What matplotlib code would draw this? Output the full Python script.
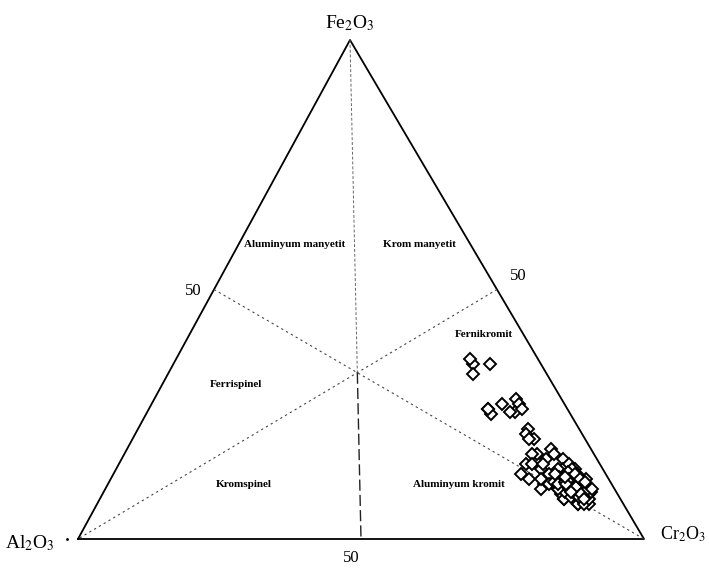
import matplotlib
matplotlib.use("Agg")
import matplotlib.pyplot as plt
import numpy as np

plt.rcParams["font.family"] = ["Liberation Serif", "DejaVu Serif"]
plt.rcParams["mathtext.fontset"] = "stix"

# Sample compositions (%)
cr2o3 = [53, 54, 56, 52,
         60, 61, 62, 64, 65, 65, 64, 66, 60,
         69, 69, 71, 70,
         73, 75, 76, 72, 72, 73, 72, 74, 75, 77, 80, 75, 78, 77, 82, 85, 86,
         79, 81, 82, 83, 83, 79, 78, 79.5, 85, 86, 84, 80.5, 77, 81, 75,
         80, 81, 82, 83, 84, 84, 85, 80, 82, 83, 86, 81, 79, 84, 82, 85, 87, 76, 78,
         82, 83, 85, 80.5, 80.6, 81.5, 86, 86.5, 80, 78.5, 82,
         81, 82.5, 84, 83.5, 85.5, 80, 79, 82, 84.5, 81.5, 83, 79.5, 78, 84, 86,
         81.5, 82.5, 83.5, 84.5, 80.5, 81, 83, 84, 85, 82, 83, 81, 84.5, 85.5, 82.5,
         80, 81.5, 83, 84, 86]
fe2o3 = [35, 33, 35, 36,
         26, 25, 27, 28, 27, 25.5, 25.5, 26, 26,
         22, 21, 20, 20,
         17, 18, 17, 17, 15, 15, 13, 12, 14, 11, 10, 16, 16, 10, 8, 7, 8,
         14, 13, 12, 10, 10, 12, 14, 15, 9, 8, 8, 11, 13, 9, 15,
         12, 11, 10, 9, 11, 9, 10, 13, 12, 11, 9, 14, 11, 12, 8, 7, 7, 12, 11,
         11, 9.5, 8, 12, 14, 9.5, 7, 8, 10, 11.5, 13,
         12.5, 11.5, 9, 10.5, 8.5, 13.5, 12.5, 10, 9.5, 12, 8.5, 11, 13, 11, 9.5,
         10.5, 10, 9, 8.5, 11.5, 12, 11, 10, 9.5, 12.5, 10.5, 11, 9, 8, 9.5,
         12.5, 13, 12, 11.5, 10]
al2o3 = [100 - c - f for c, f in zip(cr2o3, fe2o3)]

# region labels (ternary positions: Cr, Fe)
regions = ["Aluminyum manyetit", "Krom manyetit", "Ferrispinel",
           "Fernikromit", "Kromspinel", "Aluminyum kromit"]
region_cr = [10, 32, 13, 52, 24, 62]
region_fe = [59, 59, 31, 41, 11, 11]

# triangle corners in figure pixels
A = np.array([78.0, 539.0])   # Al2O3
C = np.array([644.0, 539.0])  # Cr2O3
F = np.array([350.0, 40.0])   # Fe2O3


def tern(cr, fe):
    cr = np.asarray(cr, float) / 100
    fe = np.asarray(fe, float) / 100
    al = 1 - cr - fe
    x = al * A[0] + cr * C[0] + fe * F[0]
    y = al * A[1] + cr * C[1] + fe * F[1]
    return x, y


fig = plt.figure(figsize=(7.09, 5.76), dpi=100)
ax = fig.add_axes([0, 0, 1, 1])
ax.set_xlim(0, 709)
ax.set_ylim(576, 0)
ax.axis("off")

# outline
tx, ty = tern([0, 100, 0, 0], [0, 0, 100, 0])
ax.plot(tx, ty, color="black", lw=1.3)

# medians
x, y = tern([0, 100], [50, 0])
ax.plot(x, y, color="#444444", lw=0.8, ls=(0, (2, 3)))
x, y = tern([50, 0], [50, 0])
ax.plot(x, y, color="#444444", lw=0.8, ls=(0, (2, 3)))
x, y = tern([0, 100 / 3], [100, 100 / 3])
ax.plot(x, y, color="#666666", lw=0.7, ls=(0, (3, 2)))
x, y = tern([100 / 3, 50], [100 / 3, 0])
ax.plot(x, y, color="#222222", lw=1.0, ls=(0, (8, 3)))

# vertex labels
ax.text(F[0], F[1] - 17, r"Fe$_2$O$_3$", fontsize=14, ha="center", va="center")
ax.text(A[0] - 48, A[1] + 4, r"Al$_2$O$_3$", fontsize=14, ha="center", va="center")
ax.plot([A[0] - 11], [A[1]], marker=".", color="black", ms=2)
ax.text(C[0] + 16, C[1] - 5, r"Cr$_2$O$_3$", fontsize=13, ha="left", va="center")

# 50 ticks
ax.text(193, 291, "50", fontsize=12, ha="center", va="center")
ax.text(518, 276, "50", fontsize=12, ha="center", va="center")
ax.text(351, 558, "50", fontsize=12, ha="center", va="center")

for name, rc, rf in zip(regions, region_cr, region_fe):
    x, y = tern(rc, rf)
    ax.text(x, y, name, fontsize=8, fontweight="bold", ha="center", va="center")

# samples
px, py = tern(cr2o3, fe2o3)
ax.plot(px, py, ls="none", marker="D", ms=6, mfc="white", mec="black", mew=1.4)

fig.savefig("out.png", dpi=100)
